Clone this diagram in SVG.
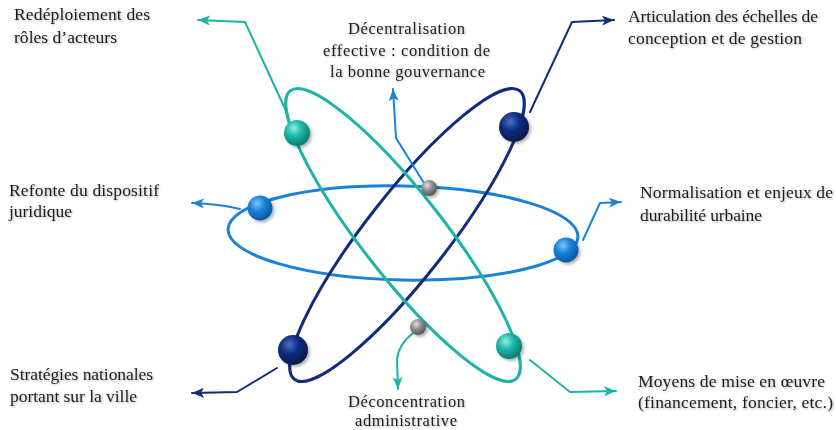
<svg xmlns="http://www.w3.org/2000/svg" width="836" height="430" viewBox="0 0 836 430">
<style>
.orb{fill:none;stroke-width:3}
.lbl{fill:#1e1e1e;font-size:17.5px}
.lblc{fill:#1e1e1e;font-size:16.5px}
.con{fill:none;stroke-width:2;stroke-linejoin:round;stroke-linecap:round}
.teal{stroke:#1db3a6}
.navy{stroke:#112c7c}
.blue{stroke:#1a82d6}
</style>
<defs>
<radialGradient id="gTeal" cx="0.38" cy="0.32" r="0.7">
<stop offset="0" stop-color="#8eeee4"/><stop offset="0.45" stop-color="#1eb5a7"/><stop offset="1" stop-color="#0a7a70"/>
</radialGradient>
<radialGradient id="gNavy" cx="0.38" cy="0.32" r="0.7">
<stop offset="0" stop-color="#4a6fc0"/><stop offset="0.45" stop-color="#0d2d80"/><stop offset="1" stop-color="#061848"/>
</radialGradient>
<radialGradient id="gBlue" cx="0.38" cy="0.32" r="0.7">
<stop offset="0" stop-color="#7cc6f6"/><stop offset="0.45" stop-color="#1a82d6"/><stop offset="1" stop-color="#0b55a0"/>
</radialGradient>
<radialGradient id="gGrey" cx="0.38" cy="0.32" r="0.7">
<stop offset="0" stop-color="#e0e0e0"/><stop offset="0.45" stop-color="#909090"/><stop offset="1" stop-color="#555"/>
</radialGradient>
<filter id="sh" x="-50%" y="-50%" width="200%" height="200%">
<feDropShadow dx="2" dy="2" stdDeviation="1.5" flood-color="#000" flood-opacity="0.3"/>
</filter>
<filter id="tsh" x="-5%" y="-30%" width="110%" height="160%">
<feDropShadow dx="1" dy="1" stdDeviation="1" flood-color="#000" flood-opacity="0.3"/>
</filter>
<marker id="aTeal" markerUnits="userSpaceOnUse" markerWidth="13" markerHeight="10" refX="12" refY="5" orient="auto"><path d="M0,0 L12,5 L0,10 L3,5 z" fill="#1db3a6"/></marker>
<marker id="aNavy" markerUnits="userSpaceOnUse" markerWidth="13" markerHeight="10" refX="12" refY="5" orient="auto"><path d="M0,0 L12,5 L0,10 L3,5 z" fill="#112c7c"/></marker>
<marker id="aBlue" markerUnits="userSpaceOnUse" markerWidth="13" markerHeight="10" refX="12" refY="5" orient="auto"><path d="M0,0 L12,5 L0,10 L3,5 z" fill="#1a82d6"/></marker>
</defs>
<rect width="836" height="430" fill="#fff"/>
<g id="orbits">
<ellipse id="orbit-blue" class="orb blue" cx="403" cy="233" rx="175" ry="47" transform="rotate(1.2 403 233)"/>
<ellipse id="orbit-navy" class="orb navy" cx="407" cy="235" rx="183" ry="41" transform="rotate(-52 407 235)"/>
<ellipse id="orbit-teal" class="orb teal" cx="403" cy="235" rx="183" ry="41" transform="rotate(52 403 235)"/>
</g>
<g id="connectors">
<path class="con teal" d="M287,113 L245,22 L198,20" marker-end="url(#aTeal)"/>
<path class="con navy" d="M530,112 L572,22 L614,20" stroke-width="1.6" marker-end="url(#aNavy)"/>
<path class="con blue" d="M240,209 Q220,204 192,203" marker-end="url(#aBlue)"/>
<path class="con blue" d="M583,240 L600,203 L621,202" marker-end="url(#aBlue)"/>
<path class="con navy" d="M277,368 L237,392 L192,393" stroke-width="1.6" marker-end="url(#aNavy)"/>
<path class="con teal" d="M530,360 L570,392 L616,391" marker-end="url(#aTeal)"/>
<path class="con blue" d="M424,183 L396,138 L393,89" marker-end="url(#aBlue)"/>
<path class="con teal" d="M413,333 Q398,345 397,360 L398,389" marker-end="url(#aTeal)"/>
</g>
<g id="sphere-teal-1" filter="url(#sh)"><circle cx="297" cy="133" r="13" fill="url(#gTeal)"/></g>
<g id="sphere-teal-2" filter="url(#sh)"><circle cx="509" cy="346" r="13" fill="url(#gTeal)"/></g>
<g id="sphere-navy-1" filter="url(#sh)"><circle cx="514" cy="127" r="15" fill="url(#gNavy)"/></g>
<g id="sphere-navy-2" filter="url(#sh)"><circle cx="293" cy="350" r="15" fill="url(#gNavy)"/></g>
<g id="sphere-blue-1" filter="url(#sh)"><circle cx="260" cy="208" r="12.5" fill="url(#gBlue)"/></g>
<g id="sphere-blue-2" filter="url(#sh)"><circle cx="566" cy="250" r="12.5" fill="url(#gBlue)"/></g>
<g id="sphere-grey-1" filter="url(#sh)"><circle cx="429" cy="188" r="8" fill="url(#gGrey)"/></g>
<g id="sphere-grey-2" filter="url(#sh)"><circle cx="418" cy="327" r="8" fill="url(#gGrey)"/></g>
<g id="labels" font-family="'Liberation Serif', 'Times New Roman', serif" filter="url(#tsh)">
<g id="label-redeploiement">
<text class="lbl" x="14" y="20" textLength="136" lengthAdjust="spacing">Redéploiement des</text>
<text class="lbl" x="14" y="43" textLength="103" lengthAdjust="spacing">rôles d’acteurs</text>
</g>
<g id="label-decentralisation">
<text class="lblc" x="348" y="34" textLength="117" lengthAdjust="spacing">Décentralisation</text>
<text class="lblc" x="323" y="56" textLength="167" lengthAdjust="spacing">effective : condition de</text>
<text class="lblc" x="330" y="77" textLength="155" lengthAdjust="spacing">la bonne gouvernance</text>
</g>
<g id="label-articulation">
<text class="lbl" x="628" y="22" textLength="190" lengthAdjust="spacing">Articulation des échelles de</text>
<text class="lbl" x="628" y="44" textLength="174" lengthAdjust="spacing">conception et de gestion</text>
</g>
<g id="label-refonte">
<text class="lbl" x="9" y="196" textLength="150" lengthAdjust="spacing">Refonte du dispositif</text>
<text class="lbl" x="9" y="217" textLength="63" lengthAdjust="spacing">juridique</text>
</g>
<g id="label-normalisation">
<text class="lbl" x="640" y="198" textLength="193" lengthAdjust="spacing">Normalisation et enjeux de</text>
<text class="lbl" x="640" y="221" textLength="122" lengthAdjust="spacing">durabilité urbaine</text>
</g>
<g id="label-strategies">
<text class="lbl" x="10" y="380" textLength="143" lengthAdjust="spacing">Stratégies nationales</text>
<text class="lbl" x="10" y="402" textLength="127" lengthAdjust="spacing">portant sur la ville</text>
</g>
<g id="label-deconcentration">
<text class="lblc" x="348" y="407" textLength="117" lengthAdjust="spacing">Déconcentration</text>
<text class="lblc" x="355" y="426" textLength="102" lengthAdjust="spacing">administrative</text>
</g>
<g id="label-moyens">
<text class="lbl" x="638" y="387" textLength="187" lengthAdjust="spacing">Moyens de mise en œuvre</text>
<text class="lbl" x="638" y="408" textLength="195" lengthAdjust="spacing">(financement, foncier, etc.)</text>
</g>
</g>
</svg>
